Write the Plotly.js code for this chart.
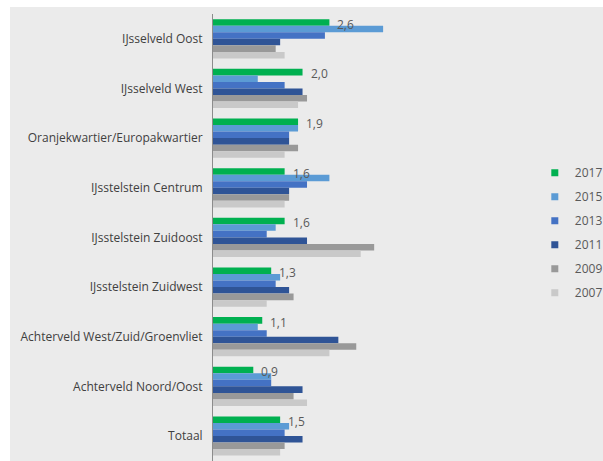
<!DOCTYPE html>
<html>
<head>
<meta charset="utf-8">
<script src="https://cdn.plot.ly/plotly-3.0.1.min.js"></script>
<style>
  html, body { margin: 0; padding: 0; background: #ffffff; }
  #chart { position: absolute; left: 10px; top: 7px; width: 593px; height: 454px; }
</style>
</head>
<body>
<div id="chart"></div>
<script>
const categories = [
  "IJsselveld Oost",
  "IJsselveld West",
  "Oranjekwartier/Europakwartier",
  "IJsstelstein Centrum",
  "IJsstelstein Zuidoost",
  "IJsstelstein Zuidwest",
  "Achterveld West/Zuid/Groenvliet",
  "Achterveld Noord/Oost",
  "Totaal"
];
const seriesNames = ["2017", "2015", "2013", "2011", "2009", "2007"];
const v2017 = [2.6, 2.0, 1.9, 1.6, 1.6, 1.3, 1.1, 0.9, 1.5];
const v2015 = [3.8, 1.0, 1.9, 2.6, 1.4, 1.5, 1.0, 1.3, 1.7];
const v2013 = [2.5, 1.6, 1.7, 2.1, 1.2, 1.4, 1.2, 1.3, 1.6];
const v2011 = [1.5, 2.0, 1.7, 1.7, 2.1, 1.7, 2.8, 2.0, 2.0];
const v2009 = [1.4, 2.1, 1.9, 1.7, 3.6, 1.8, 3.2, 1.8, 1.6];
const v2007 = [1.6, 1.9, 1.6, 1.6, 3.3, 1.2, 2.6, 2.1, 1.5];
const seriesValues = [v2017, v2015, v2013, v2011, v2009, v2007];
const colors = ["#00b050", "#5b9bd5", "#4472c4", "#2f5496", "#999999", "#c9c9c9"];

const FONT = "Open Sans, Noto Sans, sans-serif";
const traces = [];
seriesNames.forEach((name, i) => {
  traces.push({
    type: "bar",
    orientation: "h",
    name: name,
    x: seriesValues[i],
    y: categories,
    marker: { color: colors[i] },
    showlegend: false,
    hoverinfo: "skip"
  });
});
// legend-only entries with small square symbols
seriesNames.forEach((name, i) => {
  traces.push({
    type: "scatter",
    mode: "markers",
    name: name,
    x: [null],
    y: [null],
    marker: { color: colors[i], symbol: "square", size: 7 },
    legendgroup: "g" + i,
    showlegend: true
  });
});

const annotations = categories.map((c, k) => ({
  x: v2017[k],
  y: c,
  xref: "x",
  yref: "y",
  text: v2017[k].toFixed(1).replace(".", ","),
  showarrow: false,
  xanchor: "left",
  yanchor: "middle",
  xshift: 6,
  yshift: 14.5,
  font: { family: FONT, size: 12, color: "#595959" }
}));

const layout = {
  width: 593,
  height: 454,
  paper_bgcolor: "#ebebeb",
  plot_bgcolor: "#ebebeb",
  margin: { l: 203, r: 99, t: 7, b: 0, pad: 0 },
  barmode: "group",
  bargap: 0.21,
  bargroupgap: 0,
  showlegend: true,
  legend: {
    xref: "container", yref: "container",
    x: 0.885, xanchor: "left",
    y: 0.667, yanchor: "top",
    traceorder: "grouped",
    tracegroupgap: 5,
    bgcolor: "rgba(0,0,0,0)",
    itemwidth: 30,
    font: { family: FONT, size: 12, color: "#595959" }
  },
  xaxis: {
    range: [0, 6.5],
    showticklabels: false,
    showgrid: false,
    zeroline: false,
    showline: false,
    fixedrange: true
  },
  yaxis: {
    type: "category",
    autorange: "reversed",
    showline: true,
    linecolor: "#8c8c8c",
    linewidth: 1,
    showgrid: false,
    ticks: "",
    ticklabelstandoff: 7,
    tickfont: { family: FONT, size: 12, color: "#404040" },
    fixedrange: true
  },
  annotations: annotations,
  font: { family: FONT }
};

Plotly.newPlot("chart", traces, layout, { staticPlot: true, displayModeBar: false });
</script>
</body>
</html>
